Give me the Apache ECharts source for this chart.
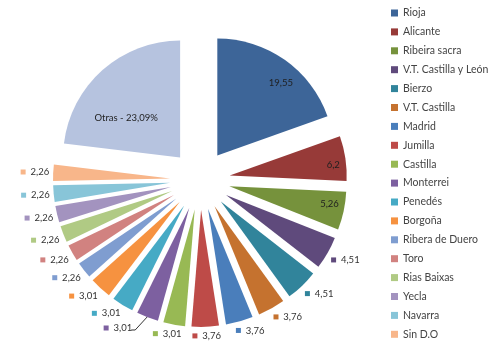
<!DOCTYPE html>
<html>
<head>
<meta charset="utf-8">
<script src="https://cdn.jsdelivr.net/npm/echarts@6/dist/echarts.min.js"></script>
<style>
  html, body { margin: 0; padding: 0; background: #fff; }
  #chart { width: 500px; height: 349px; }
</style>
</head>
<body>
<div id="chart"></div>
<script>
// Denominaciones de origen, en el orden en que se dibujan (sentido horario desde arriba)
const categories = [
  'Rioja', 'Alicante', 'Ribeira sacra', 'V.T. Castilla y León', 'Bierzo',
  'V.T. Castilla', 'Madrid', 'Jumilla', 'Castilla', 'Monterrei', 'Penedés',
  'Borgoña', 'Ribera de Duero', 'Toro', 'Rias Baixas', 'Yecla', 'Navarra',
  'Sin D.O', 'Otras'
];
const values = [
  19.55, 6.2, 5.26, 4.51, 4.51,
  3.76, 3.76, 3.76, 3.01, 3.01, 3.01,
  3.01, 2.26, 2.26, 2.26, 2.26, 2.26,
  2.26, 23.09
];
const colors = [
  '#3d6598', '#973a38', '#76923c', '#5f4a7c', '#31849b',
  '#c5722f', '#4a7ebb', '#be4b48', '#98b954', '#7d60a0', '#46aac5',
  '#f69240', '#7f9dd0', '#d18280', '#b0ca84', '#a393bf', '#88c5d8',
  '#f8b68a', '#b6c3df'
];

// Geometría del gráfico
const CENTER = [200, 180];
const RADIUS = 117;
const EXPLODE = 30;

// Etiquetas interiores: [fracción del radio desde el vértice, giro en grados]
const insidePlacement = {
  'Rioja': [0.826, 6],
  'Alicante': [0.89, 2.8],
  'Ribeira sacra': [0.87, -2],
  'Otras': [0.57, -12.5]
};
// Etiqueta desplazada a un lado con línea guía
const guidedLabel = 'Monterrei';

const fmt = v => String(v).replace('.', ',');
const FONT = 'Lato, "Open Sans", sans-serif';

// Ángulo central de cada porción (grados, sentido horario desde las 12)
const total = values.reduce((a, b) => a + b, 0);
const midAngles = [];
values.reduce((acc, v) => {
  midAngles.push((acc + v / 2) / total * 360);
  return acc + v;
}, 0);
const dirOf = deg => {
  const a = deg * Math.PI / 180;
  return [Math.sin(a), -Math.cos(a)];
};
const clamp = v => Math.max(-1, Math.min(1, v));

// Porciones (todas separadas del centro)
const sliceData = categories.map((name, i) => ({
  name,
  value: values[i],
  selected: true,
  itemStyle: { color: colors[i] }
}));

// Capa de etiquetas: mismas porciones, transparentes, sin separar
const labelData = categories.map((name, i) => {
  const inside = name in insidePlacement;
  return {
    name,
    value: values[i],
    itemStyle: { color: 'rgba(0,0,0,0)' },
    label: inside ? {
      position: 'inside',
      formatter: name === 'Otras' ? 'Otras - ' + fmt(values[i]) + '%' : fmt(values[i]),
      color: '#1f1f1f'
    } : {
      position: 'outside',
      formatter: '{sq|}  ' + fmt(values[i]),
      color: '#333',
      rich: { sq: { width: 5, height: 5, backgroundColor: colors[i] } }
    },
    labelLine: { show: name === guidedLabel }
  };
});

// Coloca cada etiqueta respecto al vértice desplazado de su porción
function placeLabel(params) {
  const i = params.dataIndex;
  const name = categories[i];
  const w = params.labelRect.width;
  const h = params.labelRect.height;
  if (name in insidePlacement) {
    const [frac, turn] = insidePlacement[name];
    const d0 = dirOf(midAngles[i]);
    const d1 = dirOf(midAngles[i] + turn);
    const tip = [CENTER[0] + EXPLODE * d0[0], CENTER[1] + EXPLODE * d0[1]];
    return {
      x: tip[0] + frac * RADIUS * d1[0],
      y: tip[1] + frac * RADIUS * d1[1],
      align: 'center',
      verticalAlign: 'middle'
    };
  }
  const d = dirOf(midAngles[i]);
  const r = EXPLODE + RADIUS + 4;
  let x = CENTER[0] + r * d[0] + (w / 2) * clamp(d[0] * 2.5);
  const y = CENTER[1] + r * d[1] + (h / 2) * clamp(d[1] * 2.5);
  const out = { x, y, align: 'center', verticalAlign: 'middle' };
  if (name === guidedLabel) {
    x -= w / 2 + 1;
    out.x = x;
    out.y = y + 2;
    const edge = [CENTER[0] + (EXPLODE + RADIUS - 1) * d[0], CENTER[1] + (EXPLODE + RADIUS - 1) * d[1]];
    out.labelLinePoints = [edge, [x + w / 2 + 3, y + 4], [x + w / 2 - 1, y + 4]];
  }
  return out;
}

const chart = echarts.init(document.getElementById('chart'), null, { renderer: 'canvas' });
chart.setOption({
  animation: false,
  backgroundColor: '#fff',
  legend: {
    orient: 'vertical',
    left: 391,
    top: 7,
    padding: 0,
    icon: 'rect',
    itemWidth: 7,
    itemHeight: 7,
    itemGap: 6.9,
    data: categories.filter(c => c !== 'Otras'),
    selectedMode: false,
    textStyle: { fontFamily: FONT, fontSize: 10.5, color: '#444', lineHeight: 12 }
  },
  series: [{
    type: 'pie',
    center: CENTER,
    radius: [0, RADIUS],
    startAngle: 90,
    clockwise: true,
    selectedMode: 'multiple',
    selectedOffset: EXPLODE,
    label: { show: false },
    labelLine: { show: false },
    select: { itemStyle: { borderWidth: 0 } },
    emphasis: { disabled: true },
    data: sliceData
  }, {
    type: 'pie',
    center: CENTER,
    radius: [0, RADIUS],
    startAngle: 90,
    clockwise: true,
    silent: true,
    selectedMode: false,
    avoidLabelOverlap: false,
    label: { fontFamily: FONT, fontSize: 9.5 },
    labelLine: { length: 4, length2: 6, lineStyle: { color: '#333', width: 1 } },
    labelLayout: placeLabel,
    emphasis: { disabled: true },
    data: labelData
  }]
});
</script>
</body>
</html>
